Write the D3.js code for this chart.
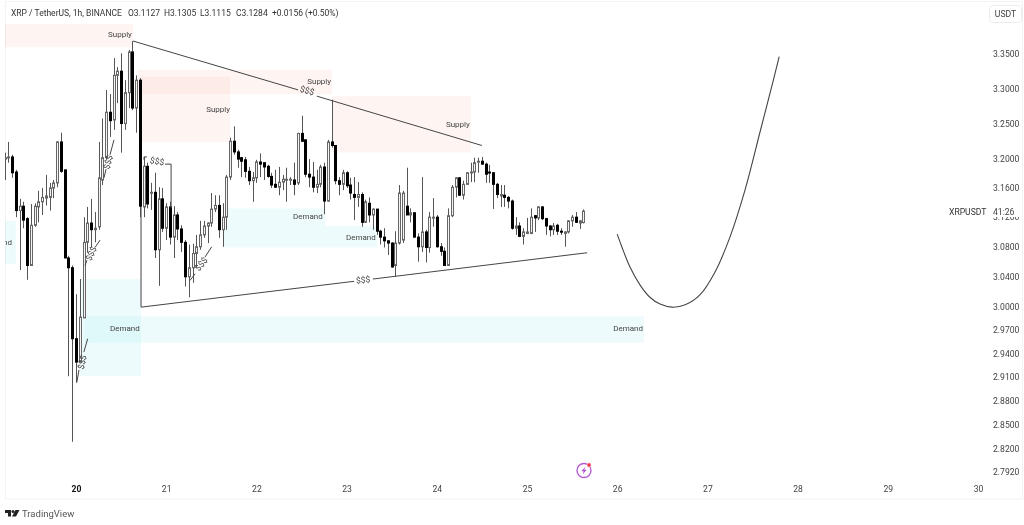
<!DOCTYPE html>
<html>
<head>
<meta charset="utf-8">
<script src="https://cdn.jsdelivr.net/npm/d3@7"></script>
<style>
  html, body { margin: 0; padding: 0; background: #fff; overflow: hidden; }
  svg { display: block; filter: blur(0.5px); }
  text { font-family: Roboto, sans-serif; }
</style>
</head>
<body>
<svg id="chart" width="1024" height="525"></svg>
<script>
// hourly candles, first one is 19h before the 20th
var firstHour = -19;
var candleOpen = [3.200,3.202,3.203,3.182,3.129,3.135,3.118,3.055,3.109,3.134,3.141,3.146,3.147,3.160,3.167,3.224,3.185,3.065,3.052,
  2.959,2.929,2.986,3.086,3.112,3.103,3.107,3.171,3.202,3.266,
  3.255,3.319,3.325,3.250,3.294,3.353,3.272,3.312,3.134,3.190,
  3.153,3.154,3.076,3.145,3.105,3.134,3.093,3.123,3.104,3.086,
  3.040,3.052,3.071,3.080,3.096,3.108,3.112,3.131,3.136,3.103,
  3.120,3.175,3.225,3.210,3.202,3.199,3.183,3.170,3.174,3.196,
  3.195,3.190,3.176,3.165,3.161,3.168,3.171,3.171,3.171,3.167,
  3.236,3.227,3.179,3.175,3.161,3.165,3.189,3.142,3.224,3.219,
  3.170,3.165,3.181,3.164,3.151,3.147,3.151,3.113,3.139,3.123,
  3.131,3.101,3.093,3.088,3.085,3.055,3.085,3.089,3.135,3.123,
  3.126,3.093,3.080,3.100,3.079,3.119,3.120,3.080,3.074,3.055,
  3.122,3.161,3.174,3.150,3.165,3.181,3.182,3.196,3.197,3.193,
  3.182,3.181,3.165,3.149,3.150,3.147,3.142,3.105,3.108,3.094,
  3.098,3.098,3.122,3.119,3.134,3.118,3.108,3.103,3.109,3.101,
  3.098,3.100,3.115,3.120,3.112,3.1127];
var candleHigh = [3.209,3.224,3.206,3.185,3.145,3.141,3.120,3.138,3.139,3.156,3.160,3.178,3.167,3.171,3.225,3.237,3.185,3.068,3.055,
  3.017,3.037,3.120,3.134,3.145,3.127,3.224,3.257,3.298,3.292,
  3.344,3.331,3.351,3.312,3.356,3.369,3.319,3.315,3.203,3.195,
  3.167,3.181,3.161,3.160,3.139,3.141,3.135,3.127,3.109,3.089,
  3.083,3.084,3.096,3.115,3.115,3.113,3.153,3.150,3.150,3.139,
  3.178,3.230,3.246,3.213,3.203,3.203,3.189,3.182,3.199,3.208,
  3.195,3.192,3.181,3.185,3.189,3.178,3.188,3.175,3.195,3.237,
  3.261,3.227,3.200,3.196,3.185,3.192,3.195,3.227,3.284,3.219,
  3.175,3.185,3.183,3.174,3.175,3.168,3.154,3.144,3.147,3.132,
  3.131,3.103,3.105,3.089,3.086,3.101,3.164,3.156,3.188,3.132,
  3.127,3.098,3.175,3.103,3.127,3.146,3.123,3.085,3.079,3.132,
  3.164,3.175,3.175,3.170,3.182,3.195,3.202,3.202,3.203,3.195,
  3.192,3.182,3.167,3.164,3.164,3.149,3.144,3.120,3.113,3.105,
  3.119,3.132,3.123,3.135,3.135,3.119,3.109,3.112,3.111,3.105,
  3.101,3.116,3.123,3.127,3.116,3.1305];
var candleLow = [3.171,3.195,3.174,3.120,3.049,3.105,3.036,3.055,3.107,3.113,3.123,3.136,3.129,3.146,3.161,3.181,3.065,2.911,2.829,
  2.903,2.929,2.986,3.072,3.079,3.086,3.103,3.164,3.199,3.231,
  3.241,3.279,3.209,3.241,3.272,3.269,3.237,3.120,3.120,3.132,
  3.130,3.065,3.028,3.100,3.089,3.083,3.065,3.089,3.073,3.027,
  3.013,3.032,3.052,3.076,3.092,3.085,3.107,3.127,3.092,3.080,
  3.103,3.171,3.206,3.188,3.175,3.174,3.164,3.141,3.167,3.175,
  3.171,3.174,3.160,3.160,3.150,3.157,3.141,3.164,3.150,3.164,
  3.224,3.175,3.161,3.154,3.153,3.161,3.124,3.141,3.216,3.165,
  3.150,3.157,3.160,3.144,3.116,3.134,3.107,3.112,3.113,3.103,
  3.096,3.083,3.079,3.069,3.052,3.040,3.083,3.085,3.123,3.113,
  3.092,3.060,3.073,3.059,3.072,3.107,3.079,3.068,3.055,3.055,
  3.120,3.147,3.149,3.144,3.164,3.168,3.168,3.181,3.192,3.167,
  3.167,3.131,3.146,3.134,3.134,3.132,3.103,3.096,3.093,3.083,
  3.097,3.097,3.100,3.116,3.116,3.096,3.094,3.096,3.096,3.096,
  3.080,3.098,3.107,3.112,3.104,3.1115];
var candleClose = [3.202,3.203,3.181,3.129,3.135,3.116,3.055,3.109,3.135,3.141,3.147,3.149,3.160,3.167,3.224,3.183,3.065,3.052,2.959,
  2.929,2.987,3.086,3.112,3.103,3.105,3.174,3.202,3.266,3.254,
  3.319,3.325,3.250,3.294,3.353,3.272,3.312,3.135,3.190,3.138,
  3.154,3.076,3.145,3.105,3.134,3.093,3.123,3.104,3.086,3.040,
  3.052,3.071,3.080,3.096,3.108,3.112,3.131,3.136,3.103,3.120,
  3.175,3.225,3.210,3.200,3.197,3.183,3.170,3.174,3.196,3.193,
  3.189,3.176,3.164,3.161,3.168,3.172,3.172,3.172,3.165,3.236,
  3.225,3.179,3.175,3.161,3.165,3.189,3.142,3.224,3.219,3.170,
  3.165,3.181,3.163,3.153,3.147,3.151,3.113,3.141,3.123,3.131,
  3.101,3.093,3.088,3.085,3.053,3.085,3.153,3.153,3.123,3.126,
  3.093,3.080,3.100,3.079,3.120,3.120,3.080,3.074,3.055,3.122,
  3.161,3.174,3.150,3.165,3.181,3.182,3.195,3.197,3.193,3.179,
  3.181,3.165,3.151,3.151,3.147,3.142,3.105,3.108,3.094,3.100,
  3.100,3.120,3.119,3.134,3.118,3.108,3.103,3.108,3.101,3.100,
  3.100,3.115,3.120,3.113,3.115,3.1284];

var priceTicks = [3.35,3.30,3.25,3.20,3.16,3.12,3.08,3.04,3.00,2.97,2.94,2.91,2.88,2.85,2.82,2.792];
var dayTicks = [20,21,22,23,24,25,26,27,28,29,30];

// zones: [startHour, endHour, topPrice, bottomPrice]
var supplyZones = [[-19,15.2,3.394,3.360],[16.5,68.1,3.327,3.292],[17.3,41,3.317,3.224],[68.1,105.1,3.289,3.209]];
var demandZones = [[-19,-16,3.115,3.057],[1,17.3,3.037,2.911],[2.1,151.1,2.988,2.954],[40.4,66.3,3.132,3.108],[39.1,80.1,3.108,3.079]];

// hand drawn lines as [hour, price] points
var drawnLines = [
  [[15.17,3.369],[59.1,3.298]],
  [[64.1,3.289],[108,3.219]],
  [[17.3,3.134],[17.3,3.000],[74,3.034]],
  [[79,3.037],[136,3.072]],
  [[18.1,3.199],[18.1,3.203],[18.9,3.203]],
  [[23.7,3.193],[25.3,3.193],[25.3,3.132]],
  [[10.1,3.227],[9.05,3.206]],
  [[8,3.186],[7.45,3.174]],
  [[6.4,3.089],[5.05,3.079]],
  [[2.9,3.062],[2.4,3.055]],
  [[3.1,2.959],[2.1,2.942]],
  [[0.8,2.919],[0.2,2.903]],
  [[36.1,3.080],[34.3,3.066]],
  [[31.7,3.044],[30.3,3.035]]
];

// the projected path on the right
var projectionHours = [144,145.3,147.4,150.1,152.7,155.4,158.6,162.1,166,170,174,178,182,184.7,187.1];
var projectionPrices = [3.097,3.079,3.053,3.029,3.013,3.004,3.000,3.003,3.016,3.046,3.093,3.157,3.238,3.294,3.346];

var zoneLabels = [
  ["Supply",11.7,3.3785],["Supply",37.8,3.271],["Supply",64.7,3.310],["Supply",101.6,3.249],
  ["Demand",13,2.973],["Demand",61.7,3.1215],["Demand",75.8,3.093],["Demand",146.9,2.972],["Demand",-21,3.086]
];
// [hour, price, rotation]
var dollarLabels = [[21.6,3.197,10],[8.5,3.196,-75],[4,3.071,-65],[1.6,2.929,-78],[33.3,3.057,-50],[61.5,3.297,15],[76.4,3.036,-5]];

var headerTexts = ["XRP / TetherUS, 1h, BINANCE","O3.1127","H3.1305","L3.1115","C3.1284","+0.0156 (+0.50%)"];
var headerStarts = [11,128,164,200,236,272];

var svg = d3.select("#chart");
var x = d3.scaleLinear().domain([20,30]).range([76,978]);
var y = d3.scaleLog().domain([2.792,3.35]).range([472,54]);
function xh(hour) { return x(20 + hour / 24); }

// pane frame
svg.append("rect").attr("x",5.5).attr("y",1.5).attr("width",1017).attr("height",497.5)
  .attr("fill","none").attr("stroke","#f3f3f3");
svg.append("clipPath").attr("id","pane").append("rect").attr("x",5).attr("y",2).attr("width",980).attr("height",497);
var pane = svg.append("g").attr("clip-path","url(#pane)");

function drawZones(zones, color) {
  pane.append("g").selectAll("rect").data(zones).join("rect")
    .attr("x",function(d){ return xh(d[0]); })
    .attr("width",function(d){ return xh(d[1]) - xh(d[0]); })
    .attr("y",function(d){ return y(d[2]); })
    .attr("height",function(d){ return y(d[3]) - y(d[2]); })
    .attr("fill",color);
}
drawZones(supplyZones,"rgba(242,80,50,0.06)");
drawZones(demandZones,"rgba(0,188,212,0.065)");

var candles = candleOpen.map(function(o,i){
  return {hour:firstHour + i, open:o, high:candleHigh[i], low:candleLow[i], close:candleClose[i]};
});
var candle = pane.append("g").selectAll("g").data(candles).join("g")
  .attr("transform",function(d){ return "translate(" + Math.round(xh(d.hour)) + ",0)"; });
candle.append("line")
  .attr("x1",0.5).attr("x2",0.5)
  .attr("y1",function(d){ return y(d.high); })
  .attr("y2",function(d){ return y(d.low); })
  .attr("stroke","#555");
candle.append("rect")
  .attr("x",-0.5).attr("width",2)
  .attr("y",function(d){ return y(Math.max(d.open,d.close)); })
  .attr("height",function(d){ return Math.max(1,Math.abs(y(d.open) - y(d.close))); })
  .attr("fill",function(d){ return d.close >= d.open ? "#f4f4f4" : "#000"; })
  .attr("stroke",function(d){ return d.close >= d.open ? "#666" : "#000"; });

var lineGen = d3.line().x(function(d){ return xh(d[0]); }).y(function(d){ return y(d[1]); });
pane.append("g").selectAll("path").data(drawnLines).join("path")
  .attr("d",lineGen).attr("fill","none").attr("stroke","#444").attr("stroke-width",1);

var projection = projectionHours.map(function(h,i){ return [h,projectionPrices[i]]; });
pane.append("path").attr("d",lineGen.curve(d3.curveCatmullRom)(projection))
  .attr("fill","none").attr("stroke","#444").attr("stroke-width",1.1);

pane.append("g").selectAll("text").data(zoneLabels).join("text")
  .attr("x",function(d){ return xh(d[1]); })
  .attr("y",function(d){ return y(d[2]); })
  .attr("dy","0.35em").attr("text-anchor","middle")
  .attr("font-size",8).attr("fill","#444")
  .text(function(d){ return d[0]; });

pane.append("g").selectAll("text").data(dollarLabels).join("text")
  .attr("transform",function(d){ return "translate(" + xh(d[0]) + "," + y(d[1]) + ") rotate(" + d[2] + ")"; })
  .attr("dy","0.35em").attr("text-anchor","middle")
  .attr("font-size",8.5).attr("fill","#444")
  .text("$$$");

// price axis
var yAxis = d3.axisRight(y).tickValues(priceTicks).tickSize(0).tickPadding(0).tickFormat(d3.format(".4f"));
var yg = svg.append("g").attr("transform","translate(993,0)").call(yAxis);
yg.select(".domain").remove();
yg.selectAll("text").attr("font-size",8.6).attr("fill","#444").attr("font-family",null);

// day axis
var xAxis = d3.axisBottom(x).tickValues(dayTicks).tickSize(0).tickPadding(0).tickFormat(d3.format("d"));
var xg = svg.append("g").attr("transform","translate(0,486)").call(xAxis);
xg.select(".domain").remove();
xg.selectAll("text").attr("font-size",8.6).attr("fill","#444").attr("font-family",null).attr("dy","0.7em");
xg.selectAll("text").filter(function(d){ return d === 20; }).attr("fill","#111").attr("font-weight",700);

// countdown label sits on top of the 3.12 tick
svg.append("rect").attr("x",990).attr("y",206).attr("width",30).attr("height",11).attr("fill","#fff");
svg.append("text").attr("x",993).attr("y",215).attr("font-size",8.6).attr("fill","#444").text("41:26");
svg.append("text").attr("x",949).attr("y",215).attr("font-size",8.6).attr("fill","#333").text("XRPUSDT");

// header
svg.append("g").selectAll("text").data(headerTexts).join("text")
  .attr("x",function(d,i){ return headerStarts[i]; })
  .attr("y",16).attr("font-size",8.5).attr("fill","#333")
  .text(function(d){ return d; });

// currency button
svg.append("rect").attr("x",989.5).attr("y",5.5).attr("width",32).attr("height",17).attr("rx",3)
  .attr("fill","#fff").attr("stroke","#ececec");
svg.append("text").attr("x",1005.5).attr("y",17).attr("text-anchor","middle")
  .attr("font-size",8.6).attr("fill","#444").text("USDT");

// flash icon
var icon = svg.append("g").attr("transform","translate(584,470.5)");
icon.append("circle").attr("r",7).attr("fill","#fff").attr("stroke","#b35bd6").attr("stroke-width",1.4);
icon.append("path").attr("d","M1.6,-4 L-2.6,0.8 L-0.2,0.8 L-1.4,4 L2.6,-0.8 L0.2,-0.8 Z").attr("fill","#a94cc9");
icon.append("circle").attr("cx",5).attr("cy",-5.5).attr("r",2.2).attr("fill","#f2364a").attr("stroke","#fff").attr("stroke-width",0.6);

// logo
var logo = svg.append("g").attr("transform","translate(5,510)").attr("fill","#222");
logo.append("path").attr("d","M0,0 H6 V6.5 H3 V3 H0 Z");
logo.append("circle").attr("cx",8).attr("cy",1.5).attr("r",1.5);
logo.append("path").attr("d","M10.5,0 H14.5 L11,6.5 H7 Z");
svg.append("text").attr("x",22).attr("y",516.5).attr("font-size",9.5).attr("fill","#555").text("TradingView");
</script>
</body>
</html>
